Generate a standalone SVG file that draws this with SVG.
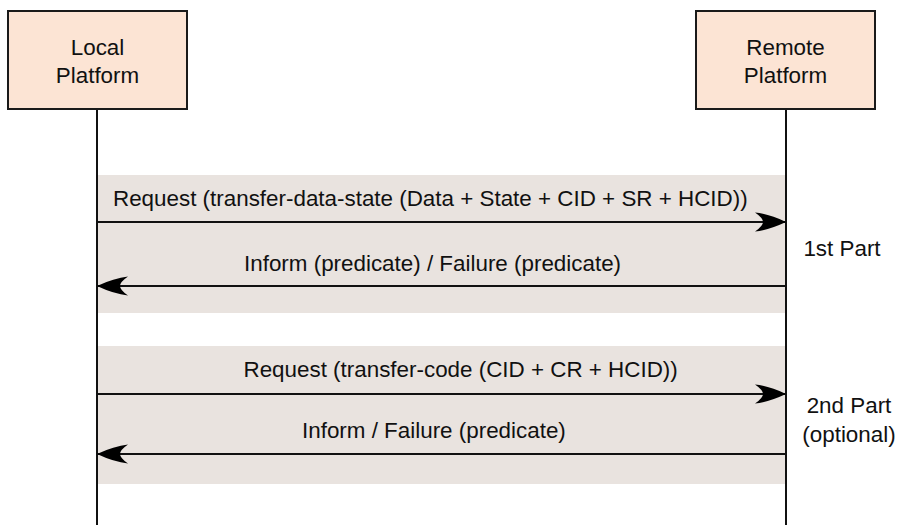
<svg xmlns="http://www.w3.org/2000/svg" width="899" height="525" viewBox="0 0 899 525">
<style>
.box{fill:#FCE4D4;stroke:#1a1a1a;stroke-width:2}
.band{fill:#E9E3DF}
.life{stroke:#111;stroke-width:2;fill:none}
.msg{stroke:#111;stroke-width:2;fill:none}
text{font-family:"Liberation Sans",Arial,sans-serif;font-size:22.4px;fill:#111}
.c{text-anchor:middle}
</style>
<defs>
<marker id="ah" markerUnits="userSpaceOnUse" markerWidth="34" markerHeight="22" refX="31" refY="10" orient="auto">
<path d="M31,10 Q14,2 0,0.5 Q8,6 8,10 Q8,14 0,19.5 Q14,18 31,10 Z" fill="#000"/>
</marker>
</defs>
<rect x="0" y="0" width="899" height="525" fill="#fff"/>
<g id="bands">
<rect class="band" x="97" y="175" width="688" height="138"/>
<rect class="band" x="97" y="346" width="688" height="138"/>
</g>
<g id="local">
<rect class="box" x="8" y="11" width="179" height="98"/>
<text class="c" x="97.5" y="55">Local</text>
<text class="c" x="97.5" y="83">Platform</text>
</g>
<g id="remote">
<rect class="box" x="696" y="11" width="179" height="98"/>
<text class="c" x="785.5" y="55">Remote</text>
<text class="c" x="785.5" y="83">Platform</text>
</g>
<g id="connectors">
<line class="life" x1="97" y1="110" x2="97" y2="525"/>
<line class="life" x1="786" y1="110" x2="786" y2="525"/>
<line class="msg" x1="97" y1="222" x2="786" y2="222" marker-end="url(#ah)"/>
<line class="msg" x1="786" y1="286" x2="97" y2="286" marker-end="url(#ah)"/>
<line class="msg" x1="97" y1="394" x2="786" y2="394" marker-end="url(#ah)"/>
<line class="msg" x1="786" y1="454" x2="97" y2="454" marker-end="url(#ah)"/>
</g>
<g id="labels">
<text x="113" y="206">Request (transfer-data-state (Data + State + CID + SR + HCID))</text>
<text x="244" y="271">Inform (predicate) / Failure (predicate)</text>
<text x="243.5" y="377">Request (transfer-code (CID + CR + HCID))</text>
<text x="302" y="438">Inform / Failure (predicate)</text>
<text class="c" x="842" y="256">1st Part</text>
<text class="c" x="849" y="413">2nd Part</text>
<text class="c" x="849" y="442">(optional)</text>
</g>
</svg>
